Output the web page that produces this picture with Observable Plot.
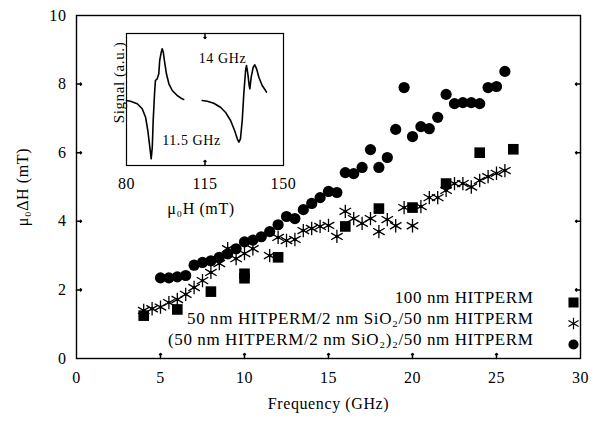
<!DOCTYPE html>
<html>
<head>
<meta charset="utf-8">
<script src="https://cdn.jsdelivr.net/npm/d3@7"></script>
<script src="https://cdn.jsdelivr.net/npm/@observablehq/plot@0.6"></script>
<style>
  html, body { margin: 0; padding: 0; background: white; }
  #wrap { position: relative; width: 597px; height: 424px; font-family: "Liberation Serif", "DejaVu Serif", serif; }
  #wrap svg { position: absolute; overflow: visible; }
  #wrap svg text { letter-spacing: 0.6px; }
</style>
</head>
<body>
<div id="wrap"></div>
<script>
// ---------- main chart data ----------
const sqFreq = [4, 6, 8, 10, 10, 12, 16, 18, 20, 22, 24, 26];
const sqVal  = [1.25, 1.43, 1.95, 2.34, 2.47, 2.95, 3.85, 4.37, 4.4, 5.1, 6.0, 6.1];

const starFreq = [4, 4.5, 5, 5.5, 6, 6.5, 7, 7.5, 8, 8.5, 9, 9.5, 10, 10.5, 11.5, 12, 12.5, 13, 13.5, 14, 14.5, 15, 15.5, 16, 16.5, 17, 17.5, 18, 18.5, 19, 19.5, 20, 20.5, 21, 21.5, 22, 22.5, 23, 23.5, 24, 24.5, 25, 25.5];
const starVal  = [1.4, 1.45, 1.5, 1.63, 1.72, 1.87, 2.07, 2.27, 2.51, 2.77, 3.2, 2.91, 3.06, 3.2, 3.0, 3.53, 3.44, 3.47, 3.73, 3.79, 3.85, 3.88, 3.56, 4.29, 4.08, 3.94, 4.08, 3.7, 4.05, 3.87, 4.4, 3.87, 4.43, 4.69, 4.69, 4.9, 5.1, 5.1, 5.0, 5.19, 5.3, 5.4, 5.48];

const circFreq = [5, 5.5, 6, 6.5, 7, 7.5, 8, 8.5, 9, 9.5, 10, 10.5, 11, 11.5, 12, 12.5, 13, 13.5, 14, 14.5, 15, 15.5, 16, 16.5, 17, 17.5, 18, 18.5, 19, 19.5, 20, 20.5, 21, 21.5, 22, 22.5, 23, 23.5, 24, 24.5, 25, 25.5];
const circVal  = [2.35, 2.35, 2.38, 2.42, 2.72, 2.8, 2.85, 2.95, 3.05, 3.2, 3.4, 3.45, 3.55, 3.7, 3.9, 4.14, 4.08, 4.34, 4.52, 4.69, 4.87, 4.84, 5.42, 5.39, 5.57, 6.09, 5.57, 5.86, 6.68, 7.9, 6.47, 6.76, 6.7, 7.03, 7.7, 7.43, 7.46, 7.46, 7.43, 7.9, 7.93, 8.37];

const xDomain = [0, 30];
const yDomain = [0, 10];
const xTicks = [0, 5, 10, 15, 20, 25, 30];
const yTicks = [0, 2, 4, 6, 8, 10];
const xInnerTicks = [5, 10, 15, 20, 25];
const yInnerTicks = [2, 4, 6, 8];
const xLabel = "Frequency (GHz)";
const yLabel = "μ₀ΔH (mT)";
const legendLabels = [
  "100 nm HITPERM",
  "50 nm HITPERM/2 nm SiO₂/50 nm HITPERM",
  "(50 nm HITPERM/2 nm SiO₂)₂/50 nm HITPERM"
];
const legendSymbols = ["square", "asterisk", "circle"];

// ---------- inset data ----------
const trace1H = [80.0, 81.8, 84.8, 87.0, 88.5, 89.5, 90.4, 91.0, 91.5, 91.9, 92.5, 92.9, 93.7, 94.4, 94.8, 95.5, 95.9, 96.4, 96.9, 97.8, 98.9, 100.4, 102.6, 104.8, 105.5];
const trace1S = [6.5, 6.43, 6.17, 5.67, 4.83, 3.5, 1.83, 0.67, 1.83, 4.5, 7.17, 8.5, 8.67, 9.17, 10.5, 11.33, 11.67, 11.33, 10.5, 9.17, 8.17, 7.5, 7.0, 6.67, 6.6];
const trace2H = [113.75, 116.0, 118.9, 121.9, 124.1, 126.4, 128.2, 129.4, 130.1, 130.8, 131.6, 132.3, 133.1, 133.5, 134.1, 134.7, 135.0, 135.6, 136.5, 137.2, 138.0, 139.0, 140.5, 142.0, 142.4];
const trace2S = [6.5, 6.43, 6.23, 5.83, 5.33, 4.5, 3.5, 2.67, 2.33, 2.67, 4.5, 7.17, 9.5, 10.0, 9.17, 8.0, 7.67, 8.83, 9.83, 10.07, 9.67, 8.83, 8.0, 7.5, 7.33];
const insetXDomain = [80, 150];
const insetYDomain = [0, 13.2];
const insetXTicks = [80, 115, 150];
const insetInnerTicks = [115];
const insetXLabel = "μ₀H (mT)";
const insetYLabel = "Signal (a.u.)";
const insetNotes = ["14 GHz", "11.5 GHz"];

// ---------- build tables ----------
const squares = sqFreq.map((f, i) => ({f, v: sqVal[i]}));
const stars = starFreq.map((f, i) => ({f, v: starVal[i]}));
const circles = circFreq.map((f, i) => ({f, v: circVal[i]}));
const trace1 = trace1H.map((h, i) => ({h, s: trace1S[i]}));
const trace2 = trace2H.map((h, i) => ({h, s: trace2S[i]}));

const FONT = "Liberation Serif, DejaVu Serif, serif";

const main = Plot.plot({
  width: 597,
  height: 424,
  marginLeft: 76,
  marginRight: 17,
  marginTop: 15,
  marginBottom: 66,
  style: {fontFamily: FONT, fontSize: "16px", background: "white", color: "black"},
  x: {domain: xDomain, ticks: xTicks, tickSize: 0, tickPadding: 13, label: null},
  y: {domain: yDomain, ticks: yTicks, tickSize: 0, tickPadding: 10, label: null},
  marks: [
    Plot.frame({stroke: "black", strokeWidth: 1.4}),
    Plot.vector(yInnerTicks, {x: () => xDomain[0], y: d => d, length: 5, rotate: 90, anchor: "start", stroke: "black"}),
    Plot.vector(yInnerTicks, {x: () => xDomain[1], y: d => d, length: 5, rotate: -90, anchor: "start", stroke: "black"}),
    Plot.vector(xInnerTicks, {x: d => d, y: () => yDomain[0], length: 5, rotate: 0, anchor: "start", stroke: "black"}),
    Plot.dot(squares, {x: "f", y: "v", symbol: "square", r: 6, fill: "black"}),
    Plot.dot(stars, {x: "f", y: "v", symbol: "asterisk", r: 6.3, stroke: "black", strokeWidth: 1.3}),
    Plot.dot(stars, {x: "f", y: "v", r: 1.7, fill: "black"}),
    Plot.dot(circles, {x: "f", y: "v", symbol: "circle", r: 5.6, fill: "black"}),
    Plot.text([xLabel], {frameAnchor: "bottom", dy: 50, fontSize: 16}),
    Plot.text([yLabel], {frameAnchor: "left", textAnchor: "middle", dx: -54, rotate: -90, fontSize: 16}),
    ...legendLabels.map((t, i) => Plot.text([t], {frameAnchor: "bottom-right", textAnchor: "end", dx: -47, dy: -56 + 21 * i, fontSize: 17})),
    ...legendSymbols.map((s, i) => Plot.dot([s], {frameAnchor: "bottom-right", dx: -7, dy: -56 + 21 * i, symbol: s, r: s === "square" ? 5 : (s === "circle" ? 4.5 : 5.5), fill: s === "asterisk" ? "none" : "black", stroke: "black", strokeWidth: 1.2}))
  ]
});
main.style.left = "0px";
main.style.top = "0px";

const inset = Plot.plot({
  width: 200,
  height: 225,
  marginLeft: 26,
  marginRight: 17,
  marginTop: 33,
  marginBottom: 60,
  style: {fontFamily: FONT, fontSize: "16px", background: "transparent", color: "black"},
  x: {domain: insetXDomain, ticks: insetXTicks, tickSize: 0, tickPadding: 12, label: null},
  y: {domain: insetYDomain, axis: null},
  marks: [
    Plot.frame({stroke: "black", strokeWidth: 1.2}),
    Plot.vector(insetInnerTicks, {x: d => d, y: () => insetYDomain[0], length: 5, rotate: 0, anchor: "start", stroke: "black"}),
    Plot.vector(insetInnerTicks, {x: d => d, y: () => insetYDomain[1], length: 5, rotate: 180, anchor: "start", stroke: "black"}),
    Plot.line(trace1, {x: "h", y: "s", stroke: "black", strokeWidth: 1.6, curve: "linear"}),
    Plot.line(trace2, {x: "h", y: "s", stroke: "black", strokeWidth: 1.6, curve: "linear"}),
    Plot.text([insetNotes[0]], {frameAnchor: "top-left", textAnchor: "middle", dx: 96, dy: 20, fontSize: 14}),
    Plot.text([insetNotes[1]], {frameAnchor: "top-left", textAnchor: "middle", dx: 65, dy: 102, fontSize: 14}),
    Plot.text([insetXLabel], {frameAnchor: "bottom", dy: 48, dx: -4, fontSize: 16}),
    Plot.text([insetYLabel], {frameAnchor: "top-left", textAnchor: "middle", dx: -13, dy: 49, rotate: -90, fontSize: 15})
  ]
});
inset.style.left = "100px";
inset.style.top = "0px";

const wrap = document.getElementById("wrap");
wrap.appendChild(main);
wrap.appendChild(inset);
</script>
</body>
</html>
